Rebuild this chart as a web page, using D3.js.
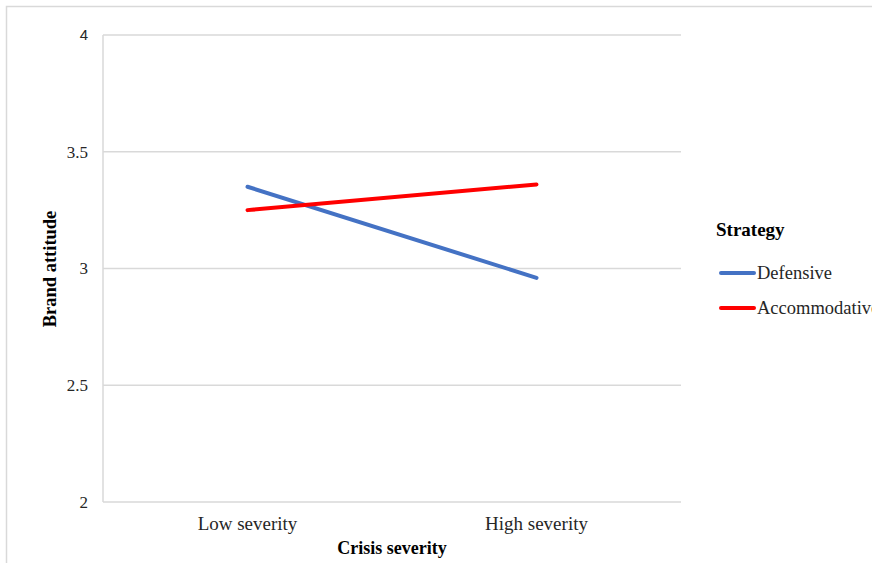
<!DOCTYPE html>
<html>
<head>
<meta charset="utf-8">
<script src="https://cdn.jsdelivr.net/npm/d3@7"></script>
<style>
  html, body { margin: 0; padding: 0; background: #fff; }
  svg { display: block; }
</style>
</head>
<body>
<svg id="chart" width="872" height="563"></svg>
<script>
// Interaction plot: brand attitude by crisis severity and response strategy
const categories = ["Low severity", "High severity"];
const seriesNames = ["Defensive", "Accommodative"];
const defensive = [3.35, 2.96];
const accommodative = [3.25, 3.36];
const yTicks = [2, 2.5, 3, 3.5, 4];
const yTickLabels = ["2", "2.5", "3", "3.5", "4"];
const colors = ["#4472C4", "#FF0000"];

const svg = d3.select("#chart");
const serif = "'Liberation Serif', 'Times New Roman', serif";
const sans = "'Liberation Sans', Arial, sans-serif";

const plot = { left: 103, right: 681, top: 35, bottom: 502 };

const x = d3.scaleBand().domain(categories).range([plot.left, plot.right]);
const y = d3.scaleLinear().domain([2, 4]).range([plot.bottom, plot.top]);

// outer frame (top and left edges visible)
svg.append("path")
  .attr("d", "M6.5,563 L6.5,6.5 L872,6.5")
  .attr("fill", "none").attr("stroke", "#d9d9d9").attr("stroke-width", 1.5);

// horizontal gridlines
svg.append("g").selectAll("line").data(yTicks).join("line")
  .attr("x1", plot.left).attr("x2", plot.right)
  .attr("y1", d => y(d)).attr("y2", d => y(d))
  .attr("stroke", "#d9d9d9").attr("stroke-width", 1.5);

// vertical axis line
svg.append("line")
  .attr("x1", plot.left).attr("x2", plot.left)
  .attr("y1", plot.top).attr("y2", plot.bottom)
  .attr("stroke", "#d9d9d9").attr("stroke-width", 1.5);

// y tick labels
svg.append("g").selectAll("text").data(yTicks).join("text")
  .attr("x", 88).attr("y", d => y(d))
  .attr("dy", "0.35em")
  .attr("text-anchor", "end")
  .attr("font-family", d => d === 4 ? sans : serif)
  .attr("font-size", d => d === 4 ? 15 : 17)
  .attr("fill", "#262626")
  .text((d, i) => yTickLabels[i]);

// x category labels
svg.append("g").selectAll("text").data(categories).join("text")
  .attr("x", d => x(d) + x.bandwidth() / 2).attr("y", 530)
  .attr("text-anchor", "middle")
  .attr("font-family", serif).attr("font-size", 19)
  .attr("fill", "#262626")
  .text(d => d);

// axis titles
svg.append("text")
  .attr("x", 392).attr("y", 554)
  .attr("text-anchor", "middle")
  .attr("font-family", serif).attr("font-size", 18).attr("font-weight", "bold")
  .attr("fill", "#000")
  .text("Crisis severity");

svg.append("text")
  .attr("transform", "translate(56,269) rotate(-90)")
  .attr("text-anchor", "middle")
  .attr("font-family", serif).attr("font-size", 18.5).attr("font-weight", "bold")
  .attr("fill", "#000")
  .text("Brand attitude");

// series lines
const series = [defensive, accommodative];
const line = d3.line()
  .x((d, i) => x(categories[i]) + x.bandwidth() / 2)
  .y(d => y(d));

svg.append("g").selectAll("path").data(series).join("path")
  .attr("d", d => line(d))
  .attr("fill", "none")
  .attr("stroke", (d, i) => colors[i])
  .attr("stroke-width", 4)
  .attr("stroke-linecap", "round");

// legend
svg.append("text")
  .attr("x", 716).attr("y", 236)
  .attr("font-family", serif).attr("font-size", 19).attr("font-weight", "bold")
  .attr("fill", "#000")
  .text("Strategy");

const legend = svg.append("g").selectAll("g").data(seriesNames).join("g")
  .attr("transform", (d, i) => `translate(0,${273 + i * 35})`);
legend.append("line")
  .attr("x1", 721).attr("x2", 754)
  .attr("stroke", (d, i) => colors[i])
  .attr("stroke-width", 4).attr("stroke-linecap", "round");
legend.append("text")
  .attr("x", 757).attr("dy", "0.35em")
  .attr("font-family", serif).attr("font-size", 18.5)
  .attr("fill", "#262626")
  .text(d => d);
</script>
</body>
</html>
